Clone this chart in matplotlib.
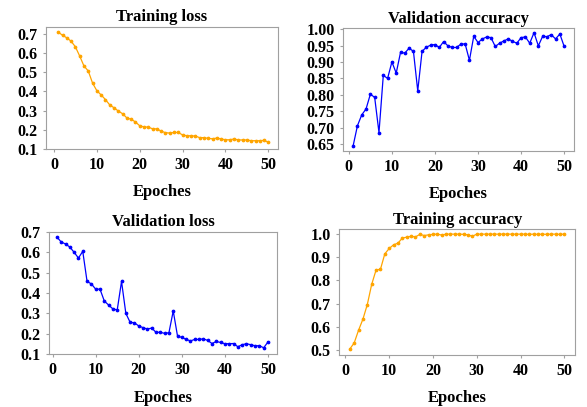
import matplotlib
matplotlib.use('Agg')
import matplotlib.pyplot as plt

plt.rcParams['font.family'] = ['Liberation Serif', 'DejaVu Serif']
plt.rcParams['font.weight'] = 'bold'

epochs = list(range(1, 51))

train_loss = [0.710, 0.693, 0.680, 0.662, 0.633, 0.585, 0.533, 0.507, 0.444, 0.404,
              0.382, 0.358, 0.330, 0.315, 0.298, 0.284, 0.262, 0.255, 0.241, 0.221,
              0.215, 0.214, 0.205, 0.205, 0.193, 0.185, 0.183, 0.186, 0.186, 0.173,
              0.169, 0.169, 0.167, 0.159, 0.159, 0.155, 0.153, 0.157, 0.152, 0.148,
              0.148, 0.152, 0.147, 0.147, 0.147, 0.143, 0.143, 0.143, 0.145, 0.135]

val_acc = [0.645, 0.706, 0.739, 0.757, 0.802, 0.792, 0.685, 0.859, 0.850, 0.900,
           0.866, 0.929, 0.927, 0.942, 0.932, 0.812, 0.932, 0.945, 0.951, 0.953,
           0.944, 0.962, 0.949, 0.944, 0.944, 0.954, 0.955, 0.905, 0.978, 0.959,
           0.970, 0.976, 0.974, 0.947, 0.957, 0.964, 0.970, 0.963, 0.957, 0.974,
           0.976, 0.957, 0.989, 0.949, 0.978, 0.977, 0.983, 0.970, 0.985, 0.947]

val_loss = [0.675, 0.651, 0.641, 0.626, 0.600, 0.572, 0.605, 0.457, 0.445, 0.419,
            0.419, 0.361, 0.341, 0.322, 0.317, 0.457, 0.300, 0.256, 0.254, 0.238,
            0.230, 0.223, 0.228, 0.207, 0.207, 0.202, 0.205, 0.312, 0.188, 0.182,
            0.172, 0.165, 0.172, 0.172, 0.175, 0.167, 0.152, 0.162, 0.157, 0.151,
            0.151, 0.152, 0.136, 0.146, 0.151, 0.146, 0.141, 0.141, 0.131, 0.160]

train_acc = [0.504, 0.530, 0.585, 0.633, 0.696, 0.783, 0.845, 0.848, 0.915, 0.938,
             0.954, 0.961, 0.983, 0.987, 0.991, 0.988, 0.999, 0.994, 0.997, 0.999,
             1.000, 0.996, 1.000, 1.000, 1.000, 1.000, 0.999, 0.997, 0.991, 1.000,
             1.000, 1.000, 1.000, 1.000, 1.000, 1.000, 1.000, 1.000, 1.000, 1.000,
             1.000, 0.999, 1.000, 0.999, 1.000, 0.999, 1.000, 1.000, 0.999, 1.000]

fig = plt.figure(figsize=(5.87, 4.07), dpi=100)

panels = [
    ('Training loss', train_loss, 'orange', [0.078, 0.634, 0.396, 0.300],
     (-1.9, 52.3), (0.1, 0.737), [0.1, 0.2, 0.3, 0.4, 0.5, 0.6, 0.7], '%.1f'),
    ('Validation accuracy', val_acc, 'blue', [0.584, 0.629, 0.394, 0.302],
     (-1.4, 52.3), (0.629, 1.003), [0.65, 0.70, 0.75, 0.80, 0.85, 0.90, 0.95, 1.00], '%.2f'),
    ('Validation loss', val_loss, 'blue', [0.083, 0.130, 0.389, 0.300],
     (-0.9, 52.1), (0.1, 0.7), [0.1, 0.2, 0.3, 0.4, 0.5, 0.6, 0.7], '%.1f'),
    ('Training accuracy', train_acc, 'orange', [0.578, 0.128, 0.402, 0.309],
     (-1.4, 52.5), (0.4785, 1.0216), [0.5, 0.6, 0.7, 0.8, 0.9, 1.0], '%.1f'),
]

for title, vals, color, rect, xl, yl, yt, fmt in panels:
    ax = fig.add_axes(rect)
    ax.plot(epochs, vals, color=color, lw=0.9, marker='o', ms=1.7)
    ax.set_xlim(*xl)
    ax.set_ylim(*yl)
    ax.set_xticks([0, 10, 20, 30, 40, 50])
    ax.set_yticks(yt)
    ax.set_yticklabels([fmt % v for v in yt])
    ax.tick_params(labelsize=11.5, length=2, color='#a0a0a0', pad=4)
    for s in ax.spines.values():
        s.set_color('#a0a0a0')
    ax.set_title(title, fontsize=12, fontweight='bold', pad=4)
    ax.set_xlabel('Epoches', fontsize=12, fontweight='bold', labelpad=8)

fig.savefig('out.png', dpi=100)
